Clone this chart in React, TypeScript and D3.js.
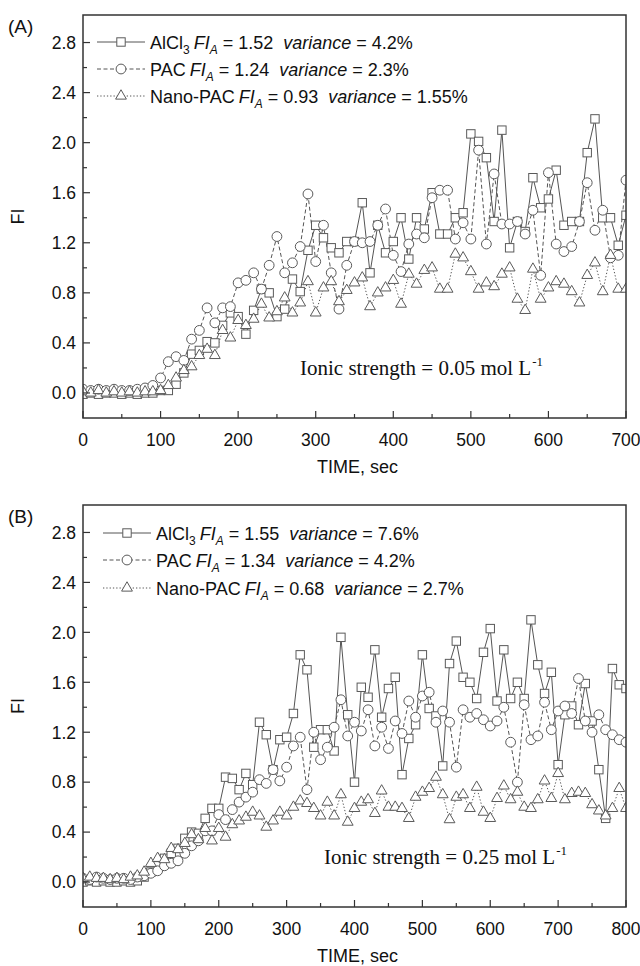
import React from "react";
import * as d3 from "d3";

// ---------- Data ----------
// Panel A: ionic strength 0.05 mol/L, t = 0..700 s every 10 s
const timeA = d3.range(0, 701, 10);
const alcl3A = [
  -0.01, 0.0, -0.01, 0.0, 0.0, -0.01, 0.0, -0.01, 0.0,
  0.0, 0.02, 0.02, 0.07, 0.16, 0.31, 0.34, 0.41, 0.4, 0.54, 0.64, 0.61, 0.47, 0.66, 0.83, 0.8, 0.61,
  0.67, 0.91, 0.81, 1.14, 1.34, 1.24, 1.16, 1.12, 1.21, 1.21, 1.52, 0.96, 1.34, 1.12, 1.21, 1.4, 1.07,
  1.4, 1.31, 1.6, 1.27, 1.27, 1.4, 1.44, 2.07, 2.01, 1.88, 1.37, 2.1, 1.16, 1.37, 1.29, 1.72, 1.48,
  1.55, 1.78, 1.34, 1.37, 1.37, 1.92, 2.19, 1.4, 1.4, 1.18, 1.42,
];
const pacA = [
  0.03, 0.02, 0.03, 0.02, 0.03, 0.02, 0.02, 0.03, 0.04,
  0.06, 0.12, 0.25, 0.29, 0.26, 0.43, 0.5, 0.68, 0.56, 0.68, 0.69, 0.88, 0.9, 0.96, 0.83, 1.02,
  1.25, 0.96, 1.04, 1.17, 1.59, 1.05, 1.34, 0.96, 0.67, 1.02, 1.21, 1.2, 1.21, 1.34, 1.47, 1.1, 0.97,
  1.19, 1.27, 1.24, 1.56, 1.62, 1.62, 1.23, 1.36, 1.23, 1.94, 1.19, 1.75, 1.35, 1.35, 1.37, 1.27, 1.46,
  0.94, 1.76, 1.19, 1.13, 1.17, 1.37, 1.68, 1.3, 1.46, 1.08, 1.1, 1.7,
];
const nanoA = [
  0.01, 0.0, 0.02, 0.0, 0.01, 0.0, 0.01, 0.0, 0.01,
  0.01, 0.02, 0.06, 0.12, 0.18, 0.21, 0.3, 0.35, 0.3, 0.5, 0.44, 0.58, 0.54, 0.59, 0.71, 0.6, 0.65,
  0.76, 0.64, 0.72, 0.89, 0.64, 0.84, 0.89, 0.73, 0.82, 0.88, 0.92, 0.69, 0.8, 0.84, 0.9, 0.71, 0.95,
  0.87, 0.98, 1.0, 0.83, 0.83, 1.11, 1.08, 0.97, 0.83, 0.88, 0.85, 0.95, 1.0, 0.75, 0.66, 0.99, 0.75,
  0.84, 0.89, 0.87, 0.81, 0.72, 0.94, 1.04, 0.81, 1.1, 0.83, 0.83,
];

// Panel B: ionic strength 0.25 mol/L, t = 0..800 s every 10 s
const timeB = d3.range(0, 801, 10);
const alcl3B = [
  0.0, 0.01, 0.0, 0.01, 0.0, 0.0, 0.01, 0.0, 0.01,
  0.04, 0.08, 0.13, 0.19, 0.23, 0.27, 0.35, 0.4, 0.39, 0.51, 0.59, 0.59, 0.84,
  0.83, 0.74, 0.87, 0.78, 1.28, 1.18, 0.9, 1.14, 1.16, 1.35, 1.82, 1.7, 1.08, 1.22, 1.22, 1.05, 1.96,
  1.34, 0.8, 1.56, 1.48, 1.86, 1.32, 1.55, 1.64, 0.86, 1.15, 1.26, 1.82, 1.39, 1.33, 0.93, 1.75, 1.93,
  1.64, 1.6, 1.47, 1.84, 2.03, 1.45, 1.86, 1.47, 1.6, 1.47, 2.1, 1.74, 1.51, 1.68, 0.94, 1.34, 1.41,
  1.26, 1.59, 1.29, 0.9, 0.51, 1.71, 1.58, 1.55,
];
const pacB = [
  0.03, 0.02, 0.04, 0.03, 0.02, 0.03, 0.03, 0.02, 0.04,
  0.05, 0.07, 0.09, 0.13, 0.15, 0.17, 0.23, 0.29, 0.33, 0.41, 0.41, 0.54, 0.5,
  0.58, 0.64, 0.68, 0.72, 0.82, 0.79, 0.9, 0.81, 0.92, 1.09, 1.16, 0.74, 1.2, 0.98, 1.08, 1.24, 1.46,
  1.17, 1.28, 1.21, 1.38, 1.09, 1.24, 1.07, 1.29, 1.19, 1.45, 1.32, 1.49, 1.52, 1.28, 1.37, 1.28, 0.92,
  1.38, 1.32, 1.35, 1.3, 1.25, 1.29, 1.4, 1.12, 0.8, 1.42, 1.14, 1.17, 1.44, 1.22, 1.37, 1.41, 1.35,
  1.63, 1.29, 1.2, 1.34, 1.22, 1.18, 1.14, 1.12,
];
const nanoB = [
  0.03, 0.04, 0.03, 0.03, 0.02, 0.03, 0.02, 0.04, 0.05,
  0.08, 0.15, 0.19, 0.18, 0.27, 0.26, 0.31, 0.38, 0.34, 0.43, 0.33, 0.43, 0.36,
  0.46, 0.49, 0.52, 0.56, 0.53, 0.44, 0.49, 0.56, 0.53, 0.6, 0.65, 0.63, 0.59, 0.53, 0.64, 0.53, 0.7,
  0.48, 0.59, 0.64, 0.66, 0.55, 0.73, 0.6, 0.6, 0.59, 0.51, 0.68, 0.72, 0.75, 0.84, 0.7, 0.5, 0.68,
  0.7, 0.59, 0.76, 0.56, 0.51, 0.67, 0.77, 0.66, 0.72, 0.6, 0.59, 0.66, 0.81, 0.67, 0.87, 0.66, 0.71,
  0.72, 0.71, 0.62, 0.57, 0.53, 0.59, 0.75, 0.59,
];

const yTickValues = [0.0, 0.4, 0.8, 1.2, 1.6, 2.0, 2.4, 2.8];
const legendA = [
  { name: "AlCl", sub: "3", fi: "1.52", variance: "4.2%" },
  { name: "PAC", sub: "", fi: "1.24", variance: "2.3%" },
  { name: "Nano-PAC", sub: "", fi: "0.93", variance: "1.55%" },
];
const legendB = [
  { name: "AlCl", sub: "3", fi: "1.55", variance: "7.6%" },
  { name: "PAC", sub: "", fi: "1.34", variance: "4.2%" },
  { name: "Nano-PAC", sub: "", fi: "0.68", variance: "2.7%" },
];

// ---------- Styling ----------
const SANS = "'Liberation Sans', Arial, Helvetica, sans-serif";
const SERIF = "'Liberation Serif', 'Times New Roman', serif";
const LINE = "#555";
const MARK = "#5a5a5a";
const AXIS = "#333";
const TXT = "#111";
const seriesStyle = [
  { dash: "none", shape: "square" },
  { dash: "4,2.5", shape: "circle" },
  { dash: "1.3,2", shape: "triangle" },
];

function Marker({ shape, x, y }: { shape: string; x: number; y: number }) {
  if (shape === "square")
    return <rect x={x - 4.2} y={y - 4.2} width={8.4} height={8.4} fill="#fff" stroke={MARK} strokeWidth={1} />;
  if (shape === "circle") return <circle cx={x} cy={y} r={4.9} fill="#fff" stroke={MARK} strokeWidth={1} />;
  const s = 10.8;
  const h = (s * Math.sqrt(3)) / 2;
  const p = `${x},${y - (2 * h) / 3} ${x + s / 2},${y + h / 3} ${x - s / 2},${y + h / 3}`;
  return <polygon points={p} fill="#fff" stroke={MARK} strokeWidth={1} />;
}

type PanelProps = {
  id: string;
  label: string;
  top: number;
  bottom: number;
  xMax: number;
  times: number[];
  series: number[][];
  legend: typeof legendA;
  legendX: number;
  legendY: number[];
  ionic: string;
  ionicX: number;
  ionicY: number;
};

function Panel(p: PanelProps) {
  const left = 83;
  const right = 626;
  const x = d3.scaleLinear().domain([0, p.xMax]).range([left, right]);
  const y = d3.scaleLinear().domain([-0.2, 3.02]).range([p.bottom, p.top]);
  const majorX = d3.range(0, p.xMax + 1, 100);
  const minorX = d3.range(50, p.xMax, 100);
  const minorY = d3.range(0.2, 2.9, 0.4);
  const line = d3
    .line<number>()
    .x((_, i) => x(p.times[i]))
    .y((d) => y(d));
  const clipId = `clip-${p.id}`;
  return (
    <g>
      <defs>
        <clipPath id={clipId}>
          <rect x={left} y={p.top} width={right - left} height={p.bottom - p.top} />
        </clipPath>
      </defs>
      <text x={8} y={p.top + 18} fontFamily={SANS} fontSize={19} fill={TXT}>
        {p.label}
      </text>
      {/* data */}
      <g clipPath={`url(#${clipId})`}>
        {p.series.map((vals, si) => (
          <path
            key={"l" + si}
            d={line(vals) || ""}
            fill="none"
            stroke={LINE}
            strokeWidth={1}
            strokeDasharray={seriesStyle[si].dash}
          />
        ))}
        {p.series.map((vals, si) =>
          vals.map((v, i) => <Marker key={`m${si}-${i}`} shape={seriesStyle[si].shape} x={x(p.times[i])} y={y(v)} />)
        )}
      </g>
      {/* frame */}
      <rect x={left} y={p.top} width={right - left} height={p.bottom - p.top} fill="none" stroke={AXIS} strokeWidth={1.5} />
      {/* x ticks */}
      {majorX.map((t) => (
        <g key={"xt" + t}>
          <line x1={x(t)} x2={x(t)} y1={p.bottom} y2={p.bottom - 7} stroke={AXIS} strokeWidth={1.2} />
          <text x={x(t)} y={p.bottom + 28} textAnchor="middle" fontFamily={SANS} fontSize={17.5} fill={TXT}>
            {t}
          </text>
        </g>
      ))}
      {minorX.map((t) => (
        <line key={"xm" + t} x1={x(t)} x2={x(t)} y1={p.bottom} y2={p.bottom - 4} stroke={AXIS} strokeWidth={1.2} />
      ))}
      {/* y ticks */}
      {yTickValues.map((v) => (
        <g key={"yt" + v}>
          <line x1={left} x2={left + 7} y1={y(v)} y2={y(v)} stroke={AXIS} strokeWidth={1.2} />
          <text x={left - 7} y={y(v) + 6.3} textAnchor="end" fontFamily={SANS} fontSize={17.5} fill={TXT}>
            {v.toFixed(1)}
          </text>
        </g>
      ))}
      {minorY.map((v) => (
        <line key={"ym" + v} x1={left} x2={left + 4} y1={y(v)} y2={y(v)} stroke={AXIS} strokeWidth={1.2} />
      ))}
      {/* axis titles */}
      <text x={(left + right) / 2 + 3} y={p.bottom + 55} textAnchor="middle" fontFamily={SANS} fontSize={18} fill={TXT}>
        TIME, sec
      </text>
      <text
        transform={`translate(${24},${(p.top + p.bottom) / 2}) rotate(-90)`}
        textAnchor="middle"
        fontFamily={SANS}
        fontSize={18}
        fill={TXT}
      >
        FI
      </text>
      {/* legend */}
      {p.legend.map((L, i) => {
        const cy = p.legendY[i];
        const lx = p.legendX;
        return (
          <g key={"lg" + i}>
            <line x1={lx} x2={lx + 48} y1={cy} y2={cy} stroke={LINE} strokeWidth={1} strokeDasharray={seriesStyle[i].dash} />
            <Marker shape={seriesStyle[i].shape} x={lx + 24} y={cy} />
            <text x={lx + 53} y={cy + 6.5} fontFamily={SANS} fontSize={18} fill={TXT}>
              <tspan>{L.name}</tspan>
              {L.sub ? (
                <tspan fontSize={12} dy={5}>
                  {L.sub}
                </tspan>
              ) : null}
              <tspan dy={L.sub ? -5 : 0} dx={4} fontStyle="italic">
                FI
              </tspan>
              <tspan fontSize={12} dy={5} fontStyle="italic">
                A
              </tspan>
              <tspan dy={-5}>{` = ${L.fi}`}</tspan>
              <tspan dx={10} fontStyle="italic">
                variance
              </tspan>
              <tspan>{` = ${L.variance}`}</tspan>
            </text>
          </g>
        );
      })}
      {/* ionic strength note */}
      <text x={p.ionicX} y={p.ionicY} fontFamily={SERIF} fontSize={21} fill={TXT}>
        {p.ionic}
        <tspan dx={1} fontSize={13} dy={-9}>
          -1
        </tspan>
      </text>
    </g>
  );
}

export default function App() {
  return (
    <svg
      width={640}
      height={966}
      viewBox="0 0 640 966"
      style={{ position: "absolute", left: 0, top: 0, background: "#fff" }}
    >
      <rect x={0} y={0} width={640} height={966} fill="#fff" />
      <Panel
        id="A"
        label="(A)"
        top={15}
        bottom={418}
        xMax={700}
        times={timeA}
        series={[alcl3A, pacA, nanoA]}
        legend={legendA}
        legendX={97}
        legendY={[42, 69, 96]}
        ionic="Ionic strength = 0.05 mol L"
        ionicX={300}
        ionicY={375}
      />
      <Panel
        id="B"
        label="(B)"
        top={505}
        bottom={907}
        xMax={800}
        times={timeB}
        series={[alcl3B, pacB, nanoB]}
        legend={legendB}
        legendX={103}
        legendY={[533, 560, 588]}
        ionic="Ionic strength = 0.25 mol L"
        ionicX={324}
        ionicY={864}
      />
    </svg>
  );
}
